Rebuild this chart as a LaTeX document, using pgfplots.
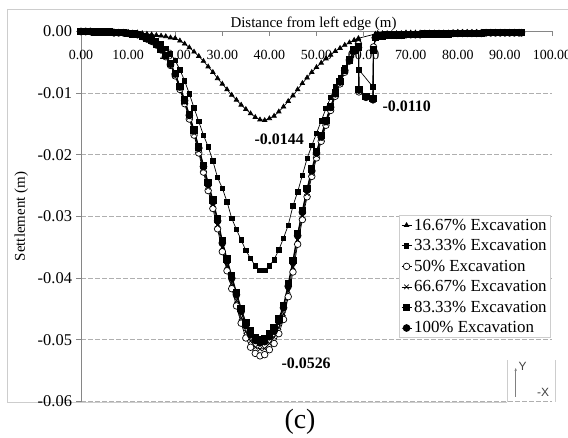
\documentclass[border=0pt]{standalone}
\usepackage{pgfplots}
\pgfplotsset{compat=1.18}
\usepackage{pgfplotstable}
\usepackage{fontspec}
\setmainfont{Liberation Serif}
\newfontfamily\arialfont{Liberation Sans}
\usetikzlibrary{arrows.meta}

\definecolor{axisgray}{RGB}{134,134,134}
\definecolor{gridgray}{RGB}{175,175,175}
\definecolor{framegray}{RGB}{205,205,205}

% settlement (m) along the section, one column per excavation stage
% a = 16.67%, b = 33.33%, c = 50%, d = 66.67%, e = 83.33%, f = 100%
\pgfplotstableread{
x     a        b        c        d        e        f
0     0        0        0        0        0        0
1     0        0        0        0        0        0
2     0        0        0        0        0        0
3     0        0       -0.0001  -0.0001  -0.0001  -0.0001
4     0        0       -0.0001  -0.0001  -0.0001  -0.0001
5     0       -0.0001  -0.0001  -0.0001  -0.0001  -0.0001
6     0       -0.0001  -0.0001  -0.0001  -0.0001  -0.0001
7     0       -0.0001  -0.0002  -0.0002  -0.0002  -0.0002
8    -0.0001  -0.0001  -0.0002  -0.0002  -0.0002  -0.0002
9    -0.0001  -0.0001  -0.0002  -0.0002  -0.0002  -0.0002
10   -0.0001  -0.0002  -0.0003  -0.0003  -0.0003  -0.0003
11   -0.0002  -0.0003  -0.0004  -0.0004  -0.0004  -0.0004
12   -0.0002  -0.0004  -0.0005  -0.0005  -0.0005  -0.0005
13   -0.0003  -0.0006  -0.0008  -0.0008  -0.0008  -0.0008
14   -0.0004  -0.0008  -0.0012  -0.0012  -0.0011  -0.0012
15   -0.0005  -0.0011  -0.0016  -0.0016  -0.0015  -0.0015
16   -0.0006  -0.0015  -0.0022  -0.0022  -0.0021  -0.0021
17   -0.0007  -0.0020  -0.0030  -0.0029  -0.0029  -0.0029
18   -0.0008  -0.0027  -0.0041  -0.0040  -0.0039  -0.0039
19   -0.0010  -0.0036  -0.0055  -0.0054  -0.0052  -0.0053
20   -0.0011  -0.0047  -0.0072  -0.0071  -0.0068  -0.0069
21   -0.0015  -0.0062  -0.0094  -0.0092  -0.0089  -0.0090
22   -0.0020  -0.0080  -0.0117  -0.0115  -0.0111  -0.0112
23   -0.0026  -0.0101  -0.0142  -0.0139  -0.0135  -0.0136
24   -0.0033  -0.0124  -0.0168  -0.0165  -0.0160  -0.0161
25   -0.0040  -0.0146  -0.0197  -0.0193  -0.0187  -0.0189
26   -0.0048  -0.0168  -0.0228  -0.0223  -0.0217  -0.0219
27   -0.0057  -0.0187  -0.0258  -0.0253  -0.0245  -0.0248
28   -0.0066  -0.0210  -0.0287  -0.0281  -0.0273  -0.0276
29   -0.0076  -0.0237  -0.0320  -0.0314  -0.0304  -0.0307
30   -0.0085  -0.0254  -0.0357  -0.0350  -0.0339  -0.0343
31   -0.0094  -0.0276  -0.0388  -0.0380  -0.0369  -0.0372
32   -0.0103  -0.0303  -0.0417  -0.0409  -0.0396  -0.0400
33   -0.0111  -0.0321  -0.0445  -0.0436  -0.0423  -0.0427
34   -0.0119  -0.0338  -0.0473  -0.0464  -0.0449  -0.0454
35   -0.0126  -0.0355  -0.0497  -0.0487  -0.0472  -0.0477
36   -0.0133  -0.0368  -0.0512  -0.0502  -0.0486  -0.0492
37   -0.0139  -0.0380  -0.0522  -0.0512  -0.0496  -0.0501
38   -0.0143  -0.0387  -0.0526  -0.0515  -0.0500  -0.0505
39   -0.0144  -0.0387  -0.0524  -0.0514  -0.0498  -0.0503
40   -0.0141  -0.0380  -0.0516  -0.0506  -0.0490  -0.0495
41   -0.0137  -0.0370  -0.0506  -0.0496  -0.0481  -0.0486
42   -0.0130  -0.0354  -0.0490  -0.0480  -0.0466  -0.0470
43   -0.0122  -0.0335  -0.0467  -0.0458  -0.0444  -0.0448
44   -0.0113  -0.0314  -0.0430  -0.0421  -0.0409  -0.0413
45   -0.0104  -0.0283  -0.0390  -0.0382  -0.0371  -0.0374
46   -0.0094  -0.0260  -0.0345  -0.0338  -0.0328  -0.0331
47   -0.0084  -0.0233  -0.0305  -0.0299  -0.0290  -0.0293
48   -0.0075  -0.0206  -0.0268  -0.0263  -0.0255  -0.0257
49   -0.0066  -0.0185  -0.0235  -0.0230  -0.0223  -0.0226
50   -0.0058  -0.0165  -0.0205  -0.0201  -0.0195  -0.0197
51   -0.0051  -0.0145  -0.0178  -0.0174  -0.0169  -0.0171
52   -0.0044  -0.0125  -0.0152  -0.0149  -0.0144  -0.0146
53   -0.0038  -0.0107  -0.0128  -0.0125  -0.0122  -0.0123
54   -0.0032  -0.0090  -0.0105  -0.0103  -0.0100  -0.0101
55   -0.0027  -0.0074  -0.0085  -0.0083  -0.0081  -0.0082
56   -0.0022  -0.0059  -0.0066  -0.0065  -0.0063  -0.0063
57   -0.0018  -0.0045  -0.0048  -0.0047  -0.0046  -0.0046
58   -0.0014  -0.0030  -0.0032  -0.0031  -0.0030  -0.0031
58.9 -0.0011  -0.0016  -0.0020  -0.0022  -0.0025  -0.0026
59.0  nan     -0.0062  -0.0098  -0.0096  -0.0094  -0.0095
60.5  nan      nan     -0.0107  -0.0106  -0.0105  -0.0106
62.0  nan     -0.0090  -0.0111  -0.0110  -0.0109  -0.0110
62.1  nan     -0.0030  -0.0025  -0.0028  -0.0030  -0.0030
62.5 -0.0004  -0.0008  -0.0010  -0.0010  -0.0010  -0.0010
63   -0.0003  -0.0006  -0.0007  -0.0007  -0.0007  -0.0007
64   -0.0003  -0.0005  -0.0007  -0.0007  -0.0007  -0.0007
65   -0.0003  -0.0005  -0.0006  -0.0006  -0.0006  -0.0006
66   -0.0003  -0.0005  -0.0006  -0.0006  -0.0006  -0.0006
67   -0.0003  -0.0004  -0.0006  -0.0006  -0.0006  -0.0006
68   -0.0003  -0.0004  -0.0006  -0.0006  -0.0006  -0.0006
69   -0.0002  -0.0004  -0.0005  -0.0005  -0.0005  -0.0005
70   -0.0002  -0.0004  -0.0005  -0.0005  -0.0005  -0.0005
71   -0.0002  -0.0004  -0.0005  -0.0005  -0.0005  -0.0005
72   -0.0002  -0.0003  -0.0005  -0.0005  -0.0005  -0.0005
73   -0.0002  -0.0003  -0.0004  -0.0004  -0.0004  -0.0004
74   -0.0002  -0.0003  -0.0004  -0.0004  -0.0004  -0.0004
75   -0.0002  -0.0003  -0.0004  -0.0004  -0.0004  -0.0004
76   -0.0002  -0.0003  -0.0004  -0.0004  -0.0004  -0.0004
77   -0.0002  -0.0003  -0.0004  -0.0004  -0.0004  -0.0004
78   -0.0002  -0.0003  -0.0004  -0.0004  -0.0004  -0.0004
79   -0.0002  -0.0003  -0.0003  -0.0003  -0.0003  -0.0003
80   -0.0001  -0.0002  -0.0003  -0.0003  -0.0003  -0.0003
81   -0.0001  -0.0002  -0.0003  -0.0003  -0.0003  -0.0003
82   -0.0001  -0.0002  -0.0003  -0.0003  -0.0003  -0.0003
83   -0.0001  -0.0002  -0.0003  -0.0003  -0.0003  -0.0003
84   -0.0001  -0.0002  -0.0003  -0.0003  -0.0003  -0.0003
85   -0.0001  -0.0002  -0.0003  -0.0003  -0.0003  -0.0003
86   -0.0001  -0.0002  -0.0002  -0.0002  -0.0002  -0.0002
87   -0.0001  -0.0002  -0.0002  -0.0002  -0.0002  -0.0002
88   -0.0001  -0.0002  -0.0002  -0.0002  -0.0002  -0.0002
89   -0.0001  -0.0001  -0.0002  -0.0002  -0.0002  -0.0002
90   -0.0001  -0.0001  -0.0002  -0.0002  -0.0002  -0.0002
91   -0.0001  -0.0001  -0.0002  -0.0002  -0.0002  -0.0002
92   -0.0001  -0.0001  -0.0002  -0.0002  -0.0002  -0.0002
93   -0.0001  -0.0001  -0.0002  -0.0002  -0.0002  -0.0002
93.5 -0.0001  -0.0001  -0.0002  -0.0002  -0.0002  -0.0002
}\settle

\begin{document}
\begin{tikzpicture}
\path[use as bounding box] (0bp,0bp) rectangle (568bp,438bp);
% outer chart frame
\draw[framegray, line width=0.8bp] (7bp,429bp) -- (568bp,429bp);
\draw[framegray, line width=0.8bp] (7bp,429bp) -- (7bp,35bp);
\draw[framegray, line width=0.8bp] (7bp,36bp) -- (507bp,36bp);
\draw[framegray, line width=0.8bp] (507bp,36bp) -- (507bp,78bp);
\draw[framegray, line width=0.8bp] (555bp,36bp) -- (555bp,78bp);
% orientation key
\draw[-{Stealth[length=3bp,width=2.5bp]}, gray, line width=0.6bp] (515.7bp,41bp) -- (515.7bp,70bp);
\node[font=\arialfont\fontsize{12}{12}\selectfont, text=black!75] at (522.5bp,72bp) {Y};
\node[font=\arialfont\fontsize{12}{12}\selectfont, text=black!75] at (543bp,46bp) {-X};
% panel tag
\node[font=\fontsize{28}{28}\selectfont] at (300bp,16.5bp) {(c)};

\begin{axis}[
  at={(81bp,36.5bp)}, anchor=south west,
  scale only axis, width=471bp, height=370bp,
  xmin=0, xmax=100, ymin=-0.06, ymax=0,
  axis x line*=top, axis y line*=left,
  axis line style={axisgray, line width=0.8bp},
  clip=false,
  xtick={0,10,20,30,40,50,60,70,80,90,100},
  xticklabels={0.00,10.00,20.00,30.00,40.00,50.00,60.00,70.00,80.00,90.00,100.00},
  ytick={-0.06,-0.05,-0.04,-0.03,-0.02,-0.01,0},
  yticklabels={-0.06,-0.05,-0.04,-0.03,-0.02,-0.01,0.00},
  scaled y ticks=false,
  tick align=outside,
  major tick length=4.5bp,
  tick style={axisgray, line width=0.8bp},
  xtick style={yshift=-4.5bp},
  xticklabel style={anchor=north, yshift=-20bp, font=\fontsize{14}{14}\selectfont},
  yticklabel style={font=\fontsize{16.5}{16.5}\selectfont, xshift=-1bp},
  ymajorgrids,
  grid style={gridgray, line width=0.8bp, dash pattern=on 5bp off 2bp},
  xlabel={Distance from left edge (m)},
  xlabel style={at={(axis description cs:0.5,1)}, anchor=base, yshift=3.5bp, xshift=-3bp, font=\fontsize{15}{15}\selectfont},
  ylabel={Settlement (m)},
  ylabel style={at={(axis description cs:-0.127,0.5)}, anchor=center, font=\fontsize{15}{15}\selectfont},
  legend style={at={(0.997,0.504)}, anchor=north east, draw=framegray, fill=white,
    font=\fontsize{17}{18}\selectfont, inner sep=1.5bp, row sep=3.8bp, line width=0.8bp},
  legend cell align=left,
  legend image code/.code={\draw[mark repeat=2,mark phase=2,#1] plot coordinates {(0bp,0bp) (5bp,0bp) (10bp,0bp)};},
  every axis plot/.append style={black, line width=0.7bp},
]
\addplot[mark=triangle*, mark size=2.6bp, mark options={solid}] table[x=x,y=a]{\settle};
\addlegendentry{16.67\% Excavation}
\addplot[mark=square*, mark size=2.2bp, mark options={solid}] table[x=x,y=b]{\settle};
\addlegendentry{33.33\% Excavation}
\addplot[mark=*, mark size=3.3bp, mark options={solid, fill=white, draw=black}] table[x=x,y=c]{\settle};
\addlegendentry{50\% Excavation}
\addplot[mark=x, mark size=3.2bp, mark options={solid}] table[x=x,y=d]{\settle};
\addlegendentry{66.67\% Excavation}
\addplot[line width=1bp, mark=square*, mark size=3.2bp, mark options={solid}] table[x=x,y=e]{\settle};
\addlegendentry{83.33\% Excavation}
\addplot[line width=1bp, mark=*, mark size=3.3bp, mark options={solid}] table[x=x,y=f]{\settle};
\addlegendentry{100\% Excavation}

\node[font=\bfseries\fontsize{16}{16}\selectfont] at (axis cs:42.07,-0.01756) {-0.0144};
\node[font=\bfseries\fontsize{16}{16}\selectfont] at (axis cs:69.15,-0.01221) {-0.0110};
\node[font=\bfseries\fontsize{16}{16}\selectfont] at (axis cs:47.8,-0.0538) {-0.0526};
\end{axis}
\end{tikzpicture}
\end{document}
